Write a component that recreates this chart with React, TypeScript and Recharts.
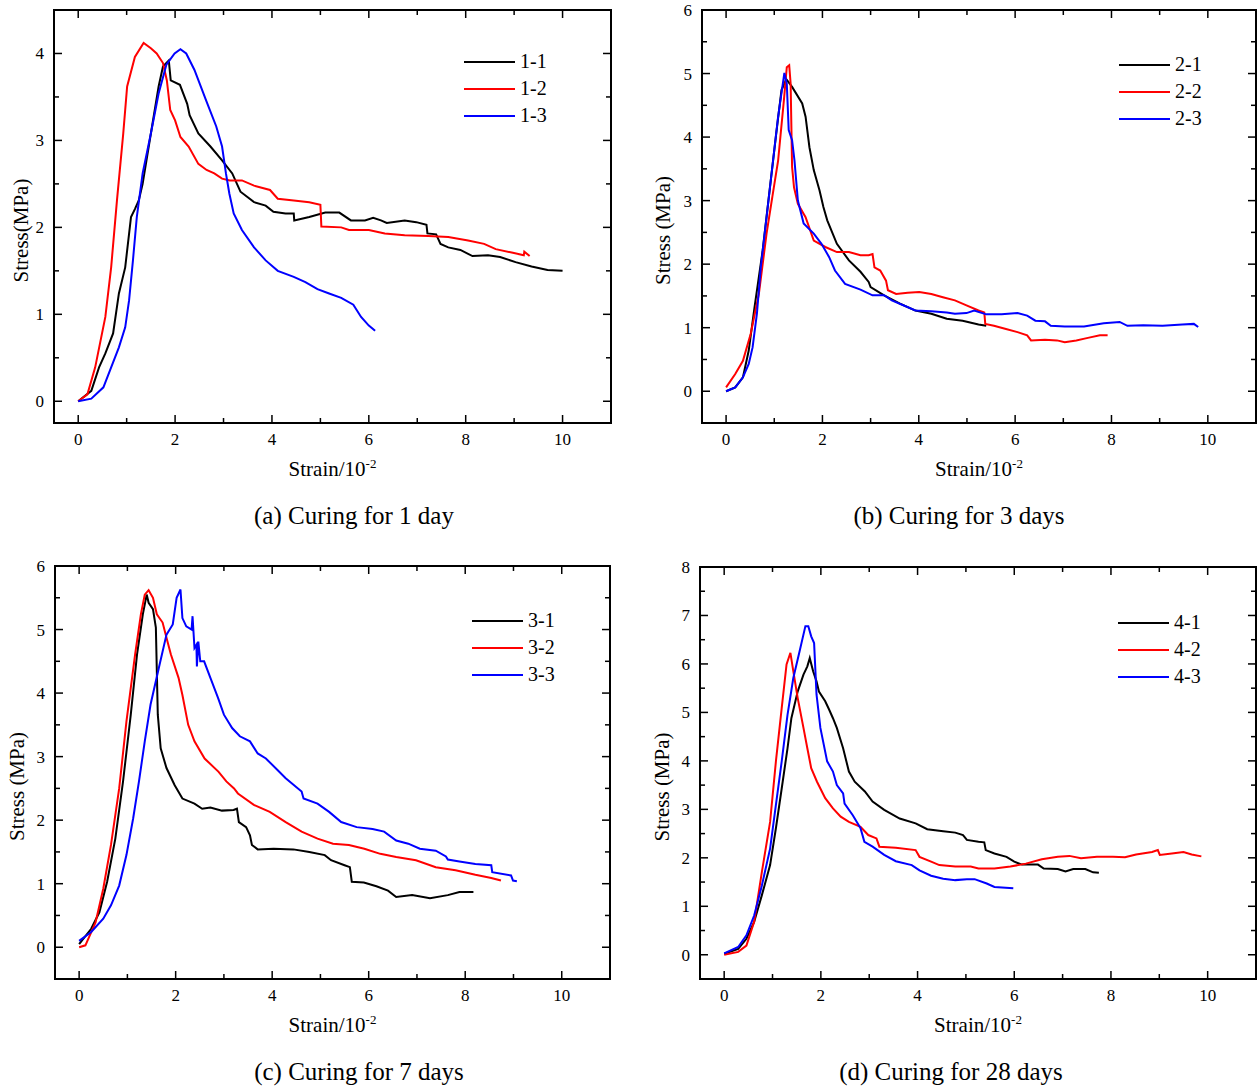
import React from 'react';
import { LineChart, Line, XAxis, YAxis, Legend, Label } from 'recharts';

const FONT = '"Liberation Serif", "Times New Roman", serif';

// (a) curing for 1 day
const strain11 = [0, 0.27, 0.43, 0.56, 0.72, 0.84, 0.97, 1.09, 1.17, 1.25, 1.33, 1.5, 1.66, 1.75, 1.87, 1.91, 2.1, 2.25, 2.3, 2.48, 2.73, 2.97, 3.18, 3.35, 3.63, 3.87, 4.03, 4.28, 4.45, 4.46, 4.77, 5.1, 5.39, 5.63, 5.92, 6.09, 6.25, 6.37, 6.74, 6.98, 7.19, 7.21, 7.39, 7.48, 7.64, 7.89, 8.14, 8.46, 8.71, 9.03, 9.36, 9.69, 10];
const stress11 = [0, 0.12, 0.39, 0.55, 0.78, 1.24, 1.54, 2.12, 2.21, 2.31, 2.5, 3.08, 3.62, 3.85, 3.92, 3.69, 3.64, 3.42, 3.29, 3.08, 2.93, 2.77, 2.62, 2.41, 2.29, 2.25, 2.18, 2.16, 2.16, 2.08, 2.12, 2.17, 2.17, 2.08, 2.08, 2.11, 2.08, 2.05, 2.08, 2.06, 2.03, 1.93, 1.92, 1.81, 1.77, 1.74, 1.67, 1.68, 1.66, 1.6, 1.55, 1.51, 1.5];
const strain12 = [0, 0.19, 0.35, 0.56, 0.68, 0.8, 0.93, 1.01, 1.17, 1.35, 1.5, 1.62, 1.75, 1.83, 1.9, 2.0, 2.11, 2.28, 2.48, 2.65, 2.81, 2.97, 3.13, 3.38, 3.63, 3.96, 4.12, 4.45, 4.77, 5.0, 5.02, 5.43, 5.59, 6.0, 6.33, 6.74, 7.23, 7.64, 8.05, 8.38, 8.62, 8.95, 9.2, 9.21, 9.32];
const stress12 = [0, 0.08, 0.39, 0.97, 1.54, 2.31, 3.08, 3.62, 3.96, 4.12, 4.06, 4.0, 3.89, 3.69, 3.35, 3.23, 3.04, 2.93, 2.73, 2.66, 2.62, 2.56, 2.54, 2.54, 2.48, 2.43, 2.33, 2.31, 2.29, 2.26, 2.01, 2.0, 1.97, 1.97, 1.93, 1.91, 1.9, 1.89, 1.85, 1.81, 1.75, 1.71, 1.68, 1.72, 1.67];
const strain13 = [0, 0.27, 0.52, 0.68, 0.84, 0.97, 1.05, 1.13, 1.21, 1.33, 1.5, 1.66, 1.82, 1.99, 2.11, 2.23, 2.4, 2.64, 2.85, 2.97, 3.05, 3.12, 3.21, 3.38, 3.63, 3.87, 4.12, 4.45, 4.69, 4.94, 5.18, 5.43, 5.68, 5.84, 6.0, 6.13];
const stress13 = [0, 0.03, 0.16, 0.39, 0.62, 0.85, 1.16, 1.62, 2.12, 2.62, 3.08, 3.54, 3.87, 4.0, 4.05, 4.0, 3.81, 3.46, 3.16, 2.93, 2.62, 2.39, 2.16, 1.97, 1.77, 1.62, 1.5, 1.43, 1.37, 1.29, 1.24, 1.19, 1.11, 0.97, 0.87, 0.81];

// (b) curing for 3 days
const strain21 = [0, 0.19, 0.35, 0.47, 0.59, 0.76, 0.92, 1.04, 1.15, 1.25, 1.37, 1.58, 1.65, 1.73, 1.82, 1.94, 2.02, 2.1, 2.3, 2.55, 2.79, 2.96, 3.0, 3.28, 3.61, 3.93, 4.26, 4.58, 4.91, 5.24, 5.4];
const stress21 = [0, 0.06, 0.22, 0.64, 1.32, 2.22, 3.27, 4.05, 4.74, 4.91, 4.79, 4.53, 4.32, 3.84, 3.48, 3.16, 2.9, 2.69, 2.32, 2.06, 1.88, 1.72, 1.64, 1.51, 1.38, 1.27, 1.22, 1.14, 1.11, 1.05, 1.03];
const strain22 = [0, 0.19, 0.35, 0.51, 0.68, 0.84, 0.96, 1.08, 1.2, 1.26, 1.31, 1.34, 1.37, 1.41, 1.49, 1.65, 1.82, 2.06, 2.3, 2.55, 2.79, 2.96, 3.04, 3.08, 3.2, 3.32, 3.36, 3.53, 3.77, 4.01, 4.26, 4.5, 4.75, 4.99, 5.24, 5.36, 5.38, 5.56, 5.81, 6.05, 6.25, 6.33, 6.62, 6.87, 7.03, 7.27, 7.51, 7.76, 7.92];
const stress22 = [0.06, 0.27, 0.48, 0.9, 1.53, 2.48, 3.06, 3.63, 4.58, 5.1, 5.13, 4.84, 3.53, 3.21, 2.95, 2.74, 2.37, 2.27, 2.19, 2.19, 2.14, 2.14, 2.16, 1.95, 1.9, 1.74, 1.59, 1.53, 1.55, 1.56, 1.53, 1.48, 1.43, 1.35, 1.27, 1.24, 1.06, 1.03, 0.98, 0.93, 0.88, 0.8, 0.81, 0.8, 0.77, 0.8, 0.84, 0.88, 0.88];
const strain23 = [0, 0.19, 0.35, 0.47, 0.55, 0.64, 0.72, 0.84, 0.96, 1.08, 1.21, 1.26, 1.3, 1.37, 1.42, 1.49, 1.61, 1.82, 1.98, 2.14, 2.26, 2.47, 2.79, 3.04, 3.28, 3.44, 3.69, 3.93, 4.26, 4.58, 4.75, 4.99, 5.15, 5.4, 5.72, 6.05, 6.25, 6.42, 6.62, 6.74, 7.03, 7.43, 7.84, 8.17, 8.33, 8.66, 9.06, 9.47, 9.71, 9.8];
const stress23 = [0, 0.06, 0.22, 0.43, 0.69, 1.22, 1.95, 2.74, 3.53, 4.32, 5.01, 4.84, 4.11, 3.95, 3.63, 3.0, 2.64, 2.48, 2.32, 2.11, 1.9, 1.69, 1.6, 1.51, 1.51, 1.43, 1.35, 1.27, 1.26, 1.24, 1.22, 1.23, 1.27, 1.21, 1.21, 1.23, 1.19, 1.11, 1.1, 1.03, 1.02, 1.02, 1.07, 1.09, 1.03, 1.04, 1.03, 1.05, 1.06, 1.01];

// (c) curing for 7 days
const strain31 = [0, 0.25, 0.42, 0.58, 0.75, 0.91, 1.07, 1.2, 1.32, 1.4, 1.44, 1.53, 1.59, 1.63, 1.69, 1.81, 1.98, 2.14, 2.39, 2.55, 2.72, 2.96, 3.2, 3.27, 3.31, 3.46, 3.54, 3.58, 3.7, 4.03, 4.44, 4.77, 5.09, 5.22, 5.5, 5.61, 5.65, 5.9, 6.16, 6.4, 6.57, 6.9, 7.27, 7.64, 7.88, 8.17];
const stress31 = [0.05, 0.29, 0.55, 1.03, 1.71, 2.61, 3.66, 4.61, 5.24, 5.55, 5.42, 5.32, 5.03, 3.66, 3.13, 2.82, 2.55, 2.34, 2.26, 2.18, 2.2, 2.15, 2.16, 2.18, 1.97, 1.89, 1.76, 1.61, 1.54, 1.55, 1.54, 1.5, 1.45, 1.37, 1.29, 1.26, 1.03, 1.02, 0.96, 0.89, 0.79, 0.82, 0.77, 0.82, 0.87, 0.87];
const strain32 = [0, 0.13, 0.34, 0.5, 0.66, 0.83, 0.98, 1.16, 1.28, 1.36, 1.44, 1.53, 1.61, 1.73, 1.81, 1.9, 2.06, 2.14, 2.26, 2.39, 2.6, 2.89, 3.05, 3.21, 3.29, 3.62, 3.95, 4.28, 4.61, 4.94, 5.26, 5.59, 5.91, 6.24, 6.57, 6.98, 7.39, 7.8, 8.21, 8.54, 8.74];
const stress32 = [0, 0.03, 0.39, 0.92, 1.61, 2.5, 3.55, 4.61, 5.24, 5.55, 5.62, 5.5, 5.24, 5.11, 4.87, 4.61, 4.24, 3.97, 3.5, 3.24, 2.97, 2.76, 2.61, 2.5, 2.42, 2.24, 2.13, 1.97, 1.82, 1.71, 1.63, 1.61, 1.55, 1.47, 1.42, 1.37, 1.26, 1.21, 1.14, 1.09, 1.05];
const strain33 = [0, 0.25, 0.5, 0.66, 0.83, 0.98, 1.12, 1.24, 1.36, 1.48, 1.65, 1.81, 1.94, 2.02, 2.1, 2.14, 2.22, 2.33, 2.35, 2.39, 2.43, 2.44, 2.47, 2.51, 2.59, 2.72, 2.88, 3.0, 3.17, 3.33, 3.54, 3.7, 3.87, 4.11, 4.28, 4.61, 4.65, 4.94, 5.18, 5.43, 5.75, 6.08, 6.32, 6.57, 6.82, 7.06, 7.39, 7.6, 7.64, 7.88, 8.21, 8.54, 8.56, 8.95, 8.99, 9.07];
const stress33 = [0.1, 0.24, 0.45, 0.66, 0.97, 1.45, 2.03, 2.61, 3.24, 3.82, 4.39, 4.92, 5.08, 5.5, 5.63, 5.18, 5.05, 5.0, 5.21, 4.71, 4.76, 4.42, 4.81, 4.5, 4.5, 4.24, 3.92, 3.66, 3.45, 3.32, 3.24, 3.05, 2.97, 2.79, 2.66, 2.45, 2.34, 2.26, 2.13, 1.97, 1.89, 1.86, 1.82, 1.68, 1.63, 1.55, 1.52, 1.43, 1.38, 1.35, 1.31, 1.29, 1.18, 1.13, 1.05, 1.04];

// (d) curing for 28 days
const strain41 = [0, 0.29, 0.46, 0.62, 0.78, 0.95, 1.07, 1.19, 1.31, 1.39, 1.52, 1.64, 1.72, 1.77, 1.84, 1.91, 1.96, 2.09, 2.17, 2.25, 2.33, 2.46, 2.58, 2.7, 2.91, 3.07, 3.31, 3.63, 3.96, 4.2, 4.53, 4.78, 4.94, 5.02, 5.26, 5.38, 5.41, 5.59, 5.84, 6.0, 6.16, 6.49, 6.61, 6.9, 7.06, 7.22, 7.47, 7.63, 7.75];
const stress41 = [0.02, 0.12, 0.33, 0.68, 1.23, 1.85, 2.61, 3.43, 4.26, 4.88, 5.43, 5.78, 5.95, 6.12, 5.85, 5.64, 5.43, 5.23, 5.06, 4.88, 4.68, 4.26, 3.78, 3.57, 3.37, 3.16, 2.99, 2.81, 2.71, 2.59, 2.55, 2.52, 2.47, 2.37, 2.33, 2.32, 2.16, 2.09, 2.02, 1.92, 1.86, 1.86, 1.78, 1.77, 1.72, 1.77, 1.77, 1.7, 1.69];
const strain42 = [0, 0.29, 0.46, 0.62, 0.78, 0.95, 1.07, 1.19, 1.29, 1.37, 1.43, 1.52, 1.64, 1.72, 1.8, 1.92, 2.09, 2.25, 2.41, 2.58, 2.82, 2.98, 3.15, 3.21, 3.55, 3.96, 4.04, 4.28, 4.45, 4.78, 5.1, 5.26, 5.59, 5.92, 6.24, 6.57, 6.9, 7.14, 7.38, 7.71, 8.04, 8.29, 8.52, 8.85, 8.97, 9.01, 9.26, 9.5, 9.67, 9.87];
const stress42 = [0, 0.06, 0.19, 0.68, 1.71, 2.74, 3.99, 5.09, 5.99, 6.23, 5.85, 5.3, 4.68, 4.26, 3.85, 3.57, 3.23, 3.02, 2.85, 2.74, 2.64, 2.47, 2.4, 2.23, 2.21, 2.16, 2.02, 1.92, 1.85, 1.82, 1.82, 1.78, 1.78, 1.82, 1.88, 1.97, 2.02, 2.04, 1.99, 2.02, 2.02, 2.01, 2.07, 2.12, 2.16, 2.06, 2.09, 2.12, 2.07, 2.03];
const strain43 = [0, 0.29, 0.46, 0.62, 0.78, 0.95, 1.07, 1.19, 1.31, 1.43, 1.56, 1.68, 1.74, 1.8, 1.86, 1.91, 1.99, 2.13, 2.25, 2.33, 2.46, 2.49, 2.66, 2.82, 2.9, 3.07, 3.31, 3.55, 3.88, 4.04, 4.28, 4.53, 4.78, 5.02, 5.18, 5.43, 5.59, 5.98];
const stress43 = [0.03, 0.16, 0.4, 0.81, 1.43, 2.19, 3.09, 3.99, 4.95, 5.71, 6.26, 6.78, 6.78, 6.57, 6.43, 5.37, 4.68, 3.99, 3.78, 3.5, 3.33, 3.12, 2.88, 2.61, 2.33, 2.23, 2.06, 1.93, 1.85, 1.74, 1.63, 1.57, 1.54, 1.56, 1.56, 1.47, 1.4, 1.37];

const xTicks = [0, 1, 2, 3, 4, 5, 6, 7, 8, 9, 10];
const yTicks45 = [0, 0.5, 1, 1.5, 2, 2.5, 3, 3.5, 4, 4.5];
const yTicks6 = [0, 0.5, 1, 1.5, 2, 2.5, 3, 3.5, 4, 4.5, 5, 5.5, 6];
const yTicks8 = [0, 0.5, 1, 1.5, 2, 2.5, 3, 3.5, 4, 4.5, 5, 5.5, 6, 6.5, 7, 7.5, 8];

const pts = (xs: number[], ys: number[]) => xs.map((x, i) => ({ x, y: ys[i] }));

const BLACK = '#000000';
const RED = '#ff0000';
const BLUE = '#0000ff';

// plot box = margin + 1px axis band on every side
const panels = [
  {
    key: 'a', left: 0, top: 0, w: 629, h: 545,
    margin: { top: 9, right: 17, bottom: 121, left: 53 },
    yDomain: [-0.25, 4.5], yTicks: yTicks45, yTitle: 'Stress(MPa)', yTitleDx: -26,
    legend: { left: 464, top: 48 },
    caption: '(a) Curing for 1 day', capX: 354, capY: 516,
    series: [
      { name: '1-1', color: BLACK, data: pts(strain11, stress11) },
      { name: '1-2', color: RED, data: pts(strain12, stress12) },
      { name: '1-3', color: BLUE, data: pts(strain13, stress13) },
    ],
  },
  {
    key: 'b', left: 629, top: 0, w: 629, h: 545,
    margin: { top: 9, right: 1, bottom: 121, left: 72 },
    yDomain: [-0.5, 6], yTicks: yTicks6, yTitle: 'Stress (MPa)', yTitleDx: -32,
    legend: { left: 1119, top: 51 },
    caption: '(b) Curing for 3 days', capX: 959, capY: 516,
    series: [
      { name: '2-1', color: BLACK, data: pts(strain21, stress21) },
      { name: '2-2', color: RED, data: pts(strain22, stress22) },
      { name: '2-3', color: BLUE, data: pts(strain23, stress23) },
    ],
  },
  {
    key: 'c', left: 0, top: 545, w: 629, h: 544,
    margin: { top: 20, right: 18, bottom: 109, left: 54 },
    yDomain: [-0.5, 6], yTicks: yTicks6, yTitle: 'Stress (MPa)', yTitleDx: -31,
    legend: { left: 472, top: 607 },
    caption: '(c) Curing for 7 days', capX: 359, capY: 1072,
    series: [
      { name: '3-1', color: BLACK, data: pts(strain31, stress31) },
      { name: '3-2', color: RED, data: pts(strain32, stress32) },
      { name: '3-3', color: BLUE, data: pts(strain33, stress33) },
    ],
  },
  {
    key: 'd', left: 629, top: 545, w: 629, h: 544,
    margin: { top: 21, right: 1, bottom: 109, left: 70 },
    yDomain: [-0.5, 8], yTicks: yTicks8, yTitle: 'Stress (MPa)', yTitleDx: -31,
    legend: { left: 1118, top: 609 },
    caption: '(d) Curing for 28 days', capX: 951, capY: 1072,
    series: [
      { name: '4-1', color: BLACK, data: pts(strain41, stress41) },
      { name: '4-2', color: RED, data: pts(strain42, stress42) },
      { name: '4-3', color: BLUE, data: pts(strain43, stress43) },
    ],
  },
];

const axisLine = { stroke: '#000', strokeWidth: 2, strokeLinecap: 'square' as const };

const AxisTick = (props: any) => {
  const { x, y, payload, side, labels } = props;
  const v = payload.value;
  const horizontal = side === 'bottom' || side === 'top';
  const major = horizontal ? v % 2 === 0 : Number.isInteger(v);
  const len = major ? 8 : 5;
  let line;
  let text = null;
  if (side === 'bottom') {
    line = <line x1={x} y1={y} x2={x} y2={y - len} />;
    if (labels && major) text = <text x={x} y={y + 22} textAnchor="middle">{v}</text>;
  } else if (side === 'top') {
    line = <line x1={x} y1={y} x2={x} y2={y + len} />;
  } else if (side === 'left') {
    line = <line x1={x} y1={y} x2={x + len} y2={y} />;
    if (labels && major) text = <text x={x - 10} y={y + 6} textAnchor="end">{v}</text>;
  } else {
    line = <line x1={x} y1={y} x2={x - len} y2={y} />;
  }
  return (
    <g stroke="#000" strokeWidth={1.5} fontFamily={FONT} fontSize={17}>
      {line}
      {text && React.cloneElement(text, { stroke: 'none', fill: '#000' })}
    </g>
  );
};

const XTitle = (props: any) => {
  const vb = props.viewBox;
  return (
    <text x={vb.x + vb.width / 2} y={vb.y + 53} textAnchor="middle" fontFamily={FONT} fontSize={21} fill="#000">
      Strain/10<tspan dy={-8} fontSize={13}>-2</tspan>
    </text>
  );
};

const makeYTitle = (title: string, dx: number) => (props: any) => {
  const vb = props.viewBox;
  const cx = vb.x + vb.width + dx;
  const cy = vb.y + vb.height / 2 + 14;
  return (
    <text x={cx} y={cy} transform={`rotate(-90 ${cx} ${cy})`} textAnchor="middle" fontFamily={FONT} fontSize={21} fill="#000">
      {title}
    </text>
  );
};

const LegendBox = (props: any) => {
  const items = props.payload || [];
  return (
    <div style={{ fontFamily: FONT, fontSize: 20, color: '#000' }}>
      {items.map((it: any) => (
        <div key={it.value} style={{ display: 'flex', alignItems: 'center', height: 27 }}>
          <div style={{ width: 51, height: 2, background: it.color, marginRight: 5 }} />
          <span>{it.value}</span>
        </div>
      ))}
    </div>
  );
};

const Panel = ({ p }: { p: any }) => (
  <div style={{ position: 'absolute', left: p.left, top: p.top }}>
    <LineChart width={p.w} height={p.h} margin={p.margin}>
      <XAxis xAxisId="b" type="number" dataKey="x" orientation="bottom" domain={[-0.5, 11]} allowDataOverflow
        ticks={xTicks} interval={0} height={1} tickSize={0} tickMargin={0} tickLine={false} axisLine={axisLine}
        tick={<AxisTick side="bottom" labels />}>
        <Label content={<XTitle />} />
      </XAxis>
      <XAxis xAxisId="t" type="number" dataKey="x" orientation="top" domain={[-0.5, 11]} allowDataOverflow
        ticks={xTicks} interval={0} height={1} tickSize={0} tickMargin={0} tickLine={false} axisLine={axisLine}
        tick={<AxisTick side="top" />} />
      <YAxis yAxisId="l" type="number" dataKey="y" orientation="left" domain={p.yDomain} allowDataOverflow
        ticks={p.yTicks} interval={0} width={1} tickSize={0} tickMargin={0} tickLine={false} axisLine={axisLine}
        tick={<AxisTick side="left" labels />}>
        <Label content={makeYTitle(p.yTitle, p.yTitleDx)} />
      </YAxis>
      <YAxis yAxisId="r" type="number" dataKey="y" orientation="right" domain={p.yDomain} allowDataOverflow
        ticks={p.yTicks} interval={0} width={1} tickSize={0} tickMargin={0} tickLine={false} axisLine={axisLine}
        tick={<AxisTick side="right" />} />
      <Legend layout="vertical" align="center" verticalAlign="middle" content={<LegendBox />}
        wrapperStyle={{ left: p.legend.left - p.left, top: p.legend.top - p.top, width: 100, height: 81 }} />
      {p.series.map((s: any) => (
        <Line key={s.name} xAxisId="b" yAxisId="l" data={s.data} dataKey="y" name={s.name} type="linear"
          stroke={s.color} strokeWidth={2} dot={false} activeDot={false} isAnimationActive={false} />
      ))}
    </LineChart>
  </div>
);

export default function App() {
  return (
    <div style={{ position: 'absolute', left: 0, top: 0, width: 1258, height: 1089, background: '#fff', overflow: 'hidden' }}>
      {panels.map((p) => (
        <Panel key={p.key} p={p} />
      ))}
      {panels.map((p) => (
        <div key={'cap' + p.key} style={{ position: 'absolute', left: p.capX - 200, top: p.capY - 15, width: 400, lineHeight: '30px',
          textAlign: 'center', fontFamily: FONT, fontSize: 25, color: '#000' }}>
          {p.caption}
        </div>
      ))}
    </div>
  );
}
